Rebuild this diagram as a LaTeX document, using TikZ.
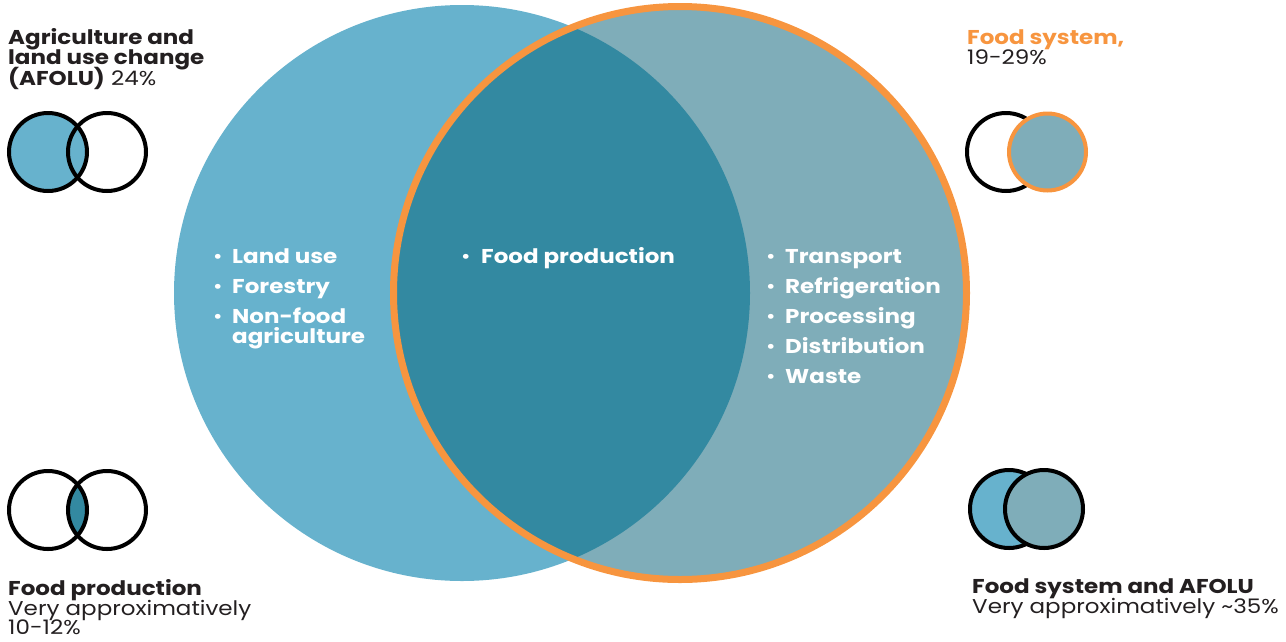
\documentclass[tikz,border=0pt]{standalone}
\usepackage{fontspec}
\setmainfont{Poppins}[FakeStretch=1.15]
\definecolor{cblue}{HTML}{67B2CD}
\definecolor{cdark}{HTML}{3389A1}
\definecolor{cgrey}{HTML}{7FADB9}
\definecolor{corange}{HTML}{F7953F}
\definecolor{ctext}{HTML}{231F20}
\tikzset{
  lbl/.style={anchor=base west, inner sep=0pt, text=ctext, font=\fontsize{20}{20.5}\selectfont},
  bul/.style={anchor=base west, inner sep=0pt, text=white, font=\bfseries\fontsize{20}{20}\selectfont},
  dot/.style={anchor=base west, inner sep=0pt, text=white, font=\fontsize{20}{20}\selectfont},
  ring/.style={line width=4pt, draw=black},
}
\begin{document}
\begin{tikzpicture}[x=1pt,y=-1pt]
\useasboundingbox (0,0) rectangle (1286,641);
% big venn
\fill[cblue] (462,293) circle (288);
\fill[cgrey] (680,293) circle (286.5);
\begin{scope}
  \clip (462,293) circle (288);
  \fill[cdark] (680,293) circle (286.5);
\end{scope}
\draw[corange, line width=7pt] (680,293) circle (286.5);
% bullets left
\node[dot] (d1) at (213,263) {•};
\node[bul] (t1) at (232,263) {Land use};
\node[dot] (d2) at (213,293) {•};
\node[bul] (t2) at (232,293) {Forestry};
\node[dot] (d3) at (213,323) {•};
\node[bul] (t3) at (232,323) {Non-food};
\node[bul] (t3b) at (232,343) {agriculture};
% center
\node[dot] (d4) at (461,263) {•};
\node[bul] (t4) at (481,263) {Food production};
% right
\node[dot] (d5) at (766,263) {•};
\node[bul] (t5) at (785,263) {Transport};
\node[dot] (d6) at (766,293) {•};
\node[bul] (t6) at (785,293) {Refrigeration};
\node[dot] (d7) at (766,323) {•};
\node[bul] (t7) at (785,323) {Processing};
\node[dot] (d8) at (766,353) {•};
\node[bul] (t8) at (785,353) {Distribution};
\node[dot] (d9) at (766,383) {•};
\node[bul] (t9) at (785,383) {Waste};
% icon top-left
\fill[cblue] (48,152) circle (39);
\draw[ring] (48,152) circle (39);
\draw[ring] (107,152) circle (39);
% icon top-right
\draw[ring] (1006,152) circle (39);
\fill[cgrey] (1047.5,152) circle (38.5);
\draw[corange, line width=4pt] (1047.5,152) circle (38.5);
% icon bottom-left
\begin{scope}
  \clip (48,510) circle (39);
  \fill[cdark] (107,510) circle (39);
\end{scope}
\draw[ring] (48,510) circle (39);
\draw[ring] (107,510) circle (39);
% icon bottom-right
\fill[cblue] (1009,509) circle (39);
\draw[ring] (1009,509) circle (39);
\fill[cgrey] (1044,509) circle (39);
\draw[ring] (1044,509) circle (39);
% labels
\node[lbl] (l1a) at (8,44) {\textbf{Agriculture and}};
\node[lbl] (l1b) at (8,64.5) {\textbf{land use change}};
\node[lbl] (l1c) at (8,85) {\textbf{(AFOLU)} 24\%};
\node[lbl, text=corange] (l2a) at (967,44) {\textbf{Food system,}};
\node[lbl] (l2b) at (967,64) {19-29\%};
\node[lbl] (l3a) at (8,595) {\textbf{Food production}};
\node[lbl] (l3b) at (8,615) {Very approximatively};
\node[lbl] (l3c) at (8,634) {10-12\%};
\node[lbl] (l4a) at (972,593) {\textbf{Food system and AFOLU}};
\node[lbl] (l4b) at (972,613.5) {Very approximatively \char"7E 35\%};
\end{tikzpicture}
\end{document}
